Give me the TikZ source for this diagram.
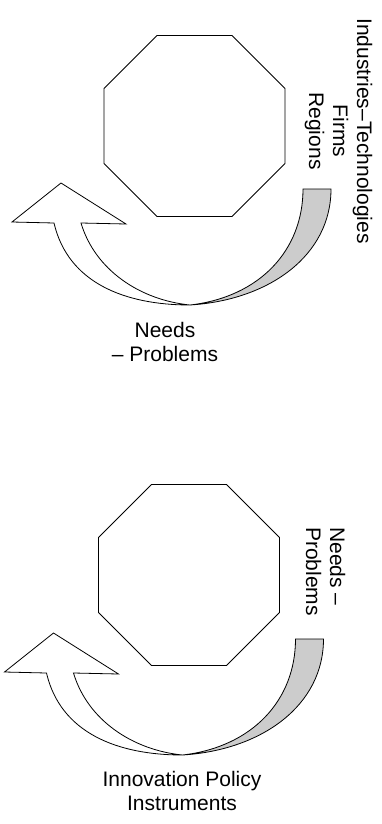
\documentclass[tikz,border=0pt]{standalone}
\usepackage{fontspec}
\setmainfont{Liberation Sans}
\usetikzlibrary{shapes.geometric}
\begin{document}
\begin{tikzpicture}[x=1pt,y=-1pt,
  octa/.style={draw,regular polygon,regular polygon sides=8,minimum size=195.9pt,inner sep=0pt,outer sep=0pt,line width=0.8pt},
  lbl/.style={inner sep=0pt,font=\fontsize{21}{24}\selectfont},
  band/.style={draw,line width=0.8pt,fill=black!20},
  bigarrow/.style={draw,line width=0.8pt,fill=white,line join=miter}]
\useasboundingbox (0,0) rectangle (381,824);
% ---------- top diagram ----------
\node[octa] (oct1) at (194.5,126) {};
\node[lbl,align=center,rotate=-90] (ind) at (338.5,131) {Industries–Technologies\\Firms\\Regions};
\node[lbl,align=center] (np1) at (165,342) {Needs\\– Problems};
\begin{scope}
  \coordinate (t1) at (190,305);
  \path[band] (303,189) -- (331,189) .. controls (331,255) and (270,300) .. (t1)
     .. controls (260,297) and (303,250) .. cycle;
  \path[bigarrow] (t1) .. controls (125,305) and (68,283) .. (54,223) -- (12,222) -- (61,183) -- (126,224) -- (81,223)
     .. controls (95,270) and (140,300) .. (t1) -- cycle;
\end{scope}
% ---------- bottom diagram ----------
\node[octa] (oct2) at (189,575) {};
\node[lbl,align=left,rotate=-90,anchor=west] (np2) at (325.7,527) {Needs –\\Problems};
\node[lbl,align=center] (ipi) at (182,791.4) {Innovation Policy\\Instruments};
\begin{scope}[shift={(-7.5,450)}]
  \coordinate (t2) at (190,305);
  \path[band] (303,189) -- (331,189) .. controls (331,255) and (270,300) .. (t2)
     .. controls (260,297) and (303,250) .. cycle;
  \path[bigarrow] (t2) .. controls (125,305) and (68,283) .. (54,223) -- (12,222) -- (61,183) -- (126,224) -- (81,223)
     .. controls (95,270) and (140,300) .. (t2) -- cycle;
\end{scope}
\end{tikzpicture}
\end{document}
